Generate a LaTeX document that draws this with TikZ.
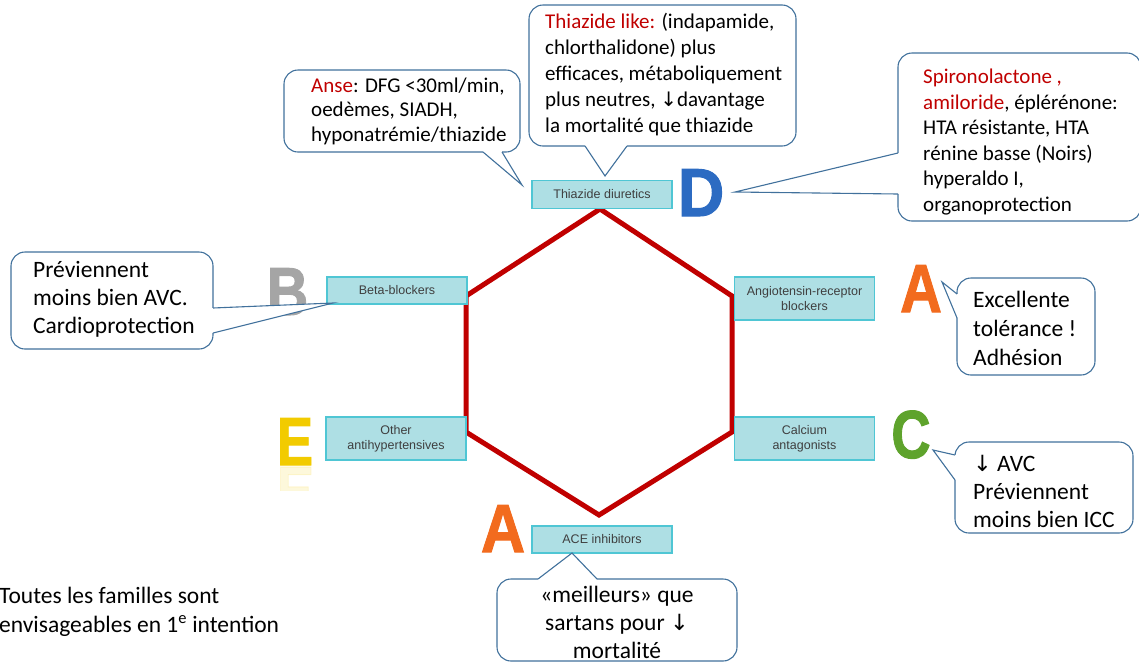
\documentclass[tikz,border=0pt]{standalone}
\usepackage{fontspec}
\setmainfont{Carlito}
\newfontfamily\labfont{Liberation Sans}
\newfontfamily\letterfont{Liberation Sans Bold}[FakeBold=1.5]
\newfontfamily\arrfont{DejaVu Sans}
\newcommand{\dn}{{\arrfont\scalebox{0.95}{↓}}}
\definecolor{hexred}{HTML}{C00000}
\definecolor{boxfill}{HTML}{AEDFE4}
\definecolor{boxline}{HTML}{4FC6D4}
\definecolor{labgray}{HTML}{3F3F3F}
\definecolor{callline}{HTML}{41719C}
\definecolor{txtred}{HTML}{C00000}
\definecolor{lblue}{HTML}{2C6BC2}
\definecolor{lgray}{HTML}{A5A5A5}
\definecolor{lorange}{HTML}{F26B1E}
\definecolor{lgreen}{HTML}{5EA32C}
\definecolor{lyellow}{HTML}{F2CB00}
\tikzset{
  drug/.style={draw=boxline, fill=boxfill, line width=1.3pt, text=labgray,
    font=\labfont\fontsize{12.5}{15}\selectfont, align=center, inner sep=0pt,
    minimum width=140pt},
  callbox/.style={draw=callline, fill=white, line width=1.1pt, rounded corners=14pt, inner sep=0pt},
  ptr/.style={draw=callline, line width=1.1pt, line join=miter},
  ctext/.style={inner sep=0pt, anchor=west, align=left},
  cbig/.style={font=\fontsize{23.5}{28}\selectfont},
  csmall/.style={font=\fontsize{21}{24.5}\selectfont},
  letter/.style={inner sep=0pt, anchor=base, font=\letterfont\fontsize{68}{68}\selectfont},
  hexline/.style={draw=hexred, line width=5pt, line join=miter}
}
\newcommand{\pointer}[3]{%
  \fill[white] (#1) -- (#2) -- (#3) -- cycle;
  \draw[white, line width=2.6pt] (#1) -- (#3);
  \draw[ptr] (#1) -- (#2) -- (#3);}
\begin{document}
\begin{tikzpicture}[x=1pt,y=-1pt]
\useasboundingbox (0,0) rectangle (1139,662);

% hexagon
\coordinate (h1) at (600,209);
\coordinate (h2) at (732,296);
\coordinate (h3) at (732,432);
\coordinate (h4) at (599,515);
\coordinate (h5) at (466,432);
\coordinate (h6) at (466,296);
\draw[hexline] (h1) -- (h2) -- (h3) -- (h4) -- (h5) -- (h6) -- cycle;

% drug boxes
\node[drug, minimum height=28pt] (thz) at (602,194.5) {Thiazide diuretics};
\node[drug, minimum height=27pt] (bb) at (397,290.5) {Beta-blockers};
\node[drug, minimum height=43pt] (arb) at (804.5,298.5) {Angiotensin-receptor\\blockers};
\node[drug, minimum height=43pt] (oth) at (396,438.5) {Other\\antihypertensives};
\node[drug, minimum height=43pt] (ca) at (804.5,438.5) {Calcium\\antagonists};
\node[drug, minimum height=27pt] (ace) at (602,539.5) {ACE inhibitors};

% letters
\node[letter, text=lblue] (ld) at (701,216) {\scalebox{0.95}[1]{D}};
\node[letter, text=lgray] (lb) at (287.5,315) {\scalebox{0.85}[1]{B}};
\node[letter, text=lorange] (la1) at (921,312) {\scalebox{0.85}[1]{A}};
\node[letter, text=lgreen] (lc) at (911,458) {\scalebox{0.8}[1]{C}};
\node[letter, text=lyellow] (le) at (295,465) {\scalebox{0.8}[1]{E}};
\begin{scope}
  \clip (270,466) rectangle (320,490);
  \node[letter, text=lyellow, text opacity=0.14] (lerefl) at (295,467) {\scalebox{0.8}[-1]{E}};
\end{scope}
\node[letter, text=lorange] (la2) at (503,552) {\scalebox{0.9}[1]{A}};

% callout boxes
\node[callbox, minimum width=236pt, minimum height=82pt] (anse) at (402,111) {};
\node[callbox, minimum width=267pt, minimum height=141pt] (thl) at (662.5,75.5) {};
\node[callbox, minimum width=243pt, minimum height=168pt] (spiro) at (1019.5,137) {};
\node[callbox, minimum width=202pt, minimum height=97pt] (prev) at (112,300.5) {};
\node[callbox, minimum width=138pt, minimum height=97pt] (exc) at (1026,326.5) {};
\node[callbox, minimum width=178pt, minimum height=91pt] (avc) at (1044,487.5) {};
\node[callbox, minimum width=240pt, minimum height=82pt] (meil) at (617,620) {};

% pointers
\coordinate (anse1) at (483,152); \coordinate (anse2) at (502,152);
\coordinate (ansetip) at (522,185);
\pointer{anse1}{ansetip}{anse2}
\coordinate (thl1) at (585,146); \coordinate (thl2) at (627,146);
\coordinate (thltip) at (605,176);
\pointer{thl1}{thltip}{thl2}
\coordinate (spiro1) at (898,153); \coordinate (spiro2) at (898,194);
\coordinate (spirotip) at (735,192);
\pointer{spiro1}{spirotip}{spiro2}
\coordinate (prev1) at (213,308); \coordinate (prev2) at (213,333);
\coordinate (prevtip) at (333,303);
\pointer{prev1}{prevtip}{prev2}
\coordinate (exc1) at (957,294); \coordinate (exc2) at (957,318);
\coordinate (exctip) at (942,282);
\pointer{exc1}{exctip}{exc2}
\coordinate (avc1) at (955,455); \coordinate (avc2) at (955,480);
\coordinate (avctip) at (933,450);
\pointer{avc1}{avctip}{avc2}
\coordinate (meil1) at (538,579); \coordinate (meil2) at (597,579);
\coordinate (meiltip) at (572,553);
\pointer{meil1}{meiltip}{meil2}

% callout texts
\node[ctext, csmall] (ansetext) at (311,111)
  {\textcolor{txtred}{Anse}: DFG <30ml/min,\\oedèmes, SIADH,\\hyponatrémie/thiazide};
\node[ctext, csmall, font=\fontsize{21}{26}\selectfont] (thltext) at (545,75)
  {\textcolor{txtred}{Thiazide like:} (indapamide,\\chlorthalidone) plus\\efficaces, métaboliquement\\plus neutres, \dn davantage\\la mortalité que thiazide};
\node[ctext, csmall, font=\fontsize{21}{25.6}\selectfont] (spirotext) at (923,142)
  {\textcolor{txtred}{Spironolactone ,}\\\textcolor{txtred}{amiloride}, éplérénone:\\HTA résistante, HTA\\rénine basse (Noirs)\\hyperaldo I,\\organoprotection};
\node[ctext, cbig] (prevtext) at (33,299)
  {Préviennent\\moins bien AVC.\\Cardioprotection};
\node[ctext, cbig, font=\fontsize{23.5}{29}\selectfont] (exctext) at (973,328)
  {Excellente\\tolérance !\\Adhésion};
\node[ctext, cbig] (avctext) at (973,491)
  {\dn{} AVC\\Préviennent\\moins bien ICC};
\node[inner sep=0pt, align=center, cbig] (meiltext) at (617,622)
  {«meilleurs» que\\sartans pour \dn\\mortalité};
\node[ctext, cbig, font=\fontsize{23.5}{29}\selectfont] (toutes) at (-1,612)
  {Toutes les familles sont\\envisageables en 1\textsuperscript{e} intention};
\end{tikzpicture}
\end{document}
